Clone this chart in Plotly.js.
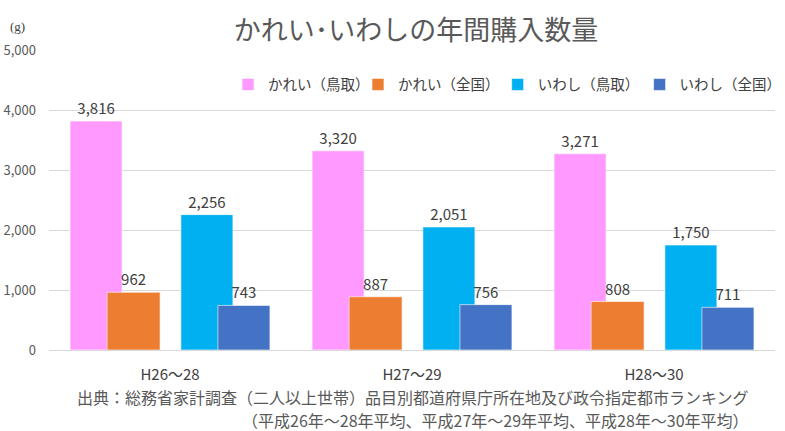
<!DOCTYPE html>
<html>
<head>
<meta charset="utf-8">
<script src="https://cdn.plot.ly/plotly-3.0.1.min.js"></script>
<style>
  html, body { margin: 0; padding: 0; background: #fff; }
  #chart { width: 785px; height: 431px; }
</style>
</head>
<body>
<div id="chart"></div>
<script>
const categories = ["H26～28", "H27～29", "H28～30"];
const seriesNames = ["かれい（鳥取）", "かれい（全国）", "いわし（鳥取）", "いわし（全国）"];
const karei_tottori = [3816, 3320, 3271];
const karei_zenkoku = [962, 887, 808];
const iwashi_tottori = [2256, 2051, 1750];
const iwashi_zenkoku = [743, 756, 711];
const yTicks = [0, 1000, 2000, 3000, 4000, 5000];
const sourceNote = [
  "出典：総務省家計調査（二人以上世帯）品目別都道府県庁所在地及び政令指定都市ランキング",
  "（平成26年～28年平均、平成27年～29年平均、平成28年～30年平均）",
];

const FONT = "'Noto Sans CJK JP', 'Noto Sans', sans-serif";
const colors = ["#FF99FF", "#ED7D31", "#00B0F0", "#4472C4"];
const offsets = [-0.413, -0.26, 0.045, 0.198];
const widths = [0.215, 0.219, 0.215, 0.215];
const values = [karei_tottori, karei_zenkoku, iwashi_tottori, iwashi_zenkoku];
const legendIds = ["legend", "legend2", "legend3", "legend4"];
const legendX = [0.2466, 0.4256, 0.618, 1.016];
const legendAnchor = ["left", "left", "left", "right"];
const noteY = [-0.155, -0.2317];

const traces = values.map((v, i) => ({
  type: "bar",
  name: seriesNames[i],
  x: categories,
  y: v,
  offset: offsets[i],
  width: widths[i],
  marker: { color: colors[i], line: { color: "rgba(255,255,255,0.6)", width: 1 } },
  text: v.map(n => n.toLocaleString("en-US")),
  textposition: "outside",
  textfont: { family: FONT, size: 15, color: "#404040" },
  cliponaxis: false,
  legend: legendIds[i],
  hovertemplate: "%{x}<br>" + seriesNames[i] + ": %{y:,}g<extra></extra>",
}));

const legendBase = {
  orientation: "h",
  yanchor: "middle",
  y: 0.885,
  bgcolor: "rgba(0,0,0,0)",
  font: { family: FONT, size: 14.5, color: "#404040" },
  itemwidth: 30,
  tracegroupgap: 0,
};

const layout = {
  width: 785,
  height: 431,
  margin: { l: 49, r: 10, t: 50, b: 81, autoexpand: false },
  paper_bgcolor: "#fff",
  plot_bgcolor: "#fff",
  barmode: "overlay",
  font: { family: FONT, color: "#595959" },
  title: {
    text: "かれい･いわしの年間購入数量",
    font: { family: FONT, size: 27, color: "#595959" },
    x: 0.53,
    xanchor: "center",
    y: 0.93,
    yanchor: "middle",
  },
  xaxis: {
    type: "category",
    tickfont: { family: FONT, size: 15, color: "#404040" },
    ticks: "",
    showgrid: false,
    zeroline: false,
    showline: false,
    ticklabelstandoff: 14,
  },
  yaxis: {
    range: [0, 5000],
    tickvals: yTicks,
    ticktext: yTicks.map(n => n.toLocaleString("en-US")),
    tickfont: { family: FONT, size: 13, color: "#595959" },
    gridcolor: "#D9D9D9",
    gridwidth: 1,
    zeroline: true,
    zerolinecolor: "#D9D9D9",
    showline: false,
    ticks: "",
    ticklabelstandoff: 12,
    fixedrange: true,
  },
  showlegend: true,
  annotations: [
    {
      text: "(g)", xref: "paper", yref: "paper", x: -0.043, y: 1.077,
      xanchor: "center", yanchor: "middle", showarrow: false,
      font: { family: "'Liberation Serif', serif", size: 13, color: "#404040" },
    },
  ].concat(sourceNote.map((line, i) => ({
    text: line,
    xref: "paper", yref: "paper", x: 0.967, y: noteY[i],
    xanchor: "right", yanchor: "middle", showarrow: false,
    font: { family: FONT, size: 16, color: "#595959" },
  }))),
};

legendIds.forEach((id, i) => {
  layout[id] = Object.assign({}, legendBase, { x: legendX[i], xanchor: legendAnchor[i] });
});

Plotly.newPlot("chart", traces, layout, { displayModeBar: false });
</script>
</body>
</html>
